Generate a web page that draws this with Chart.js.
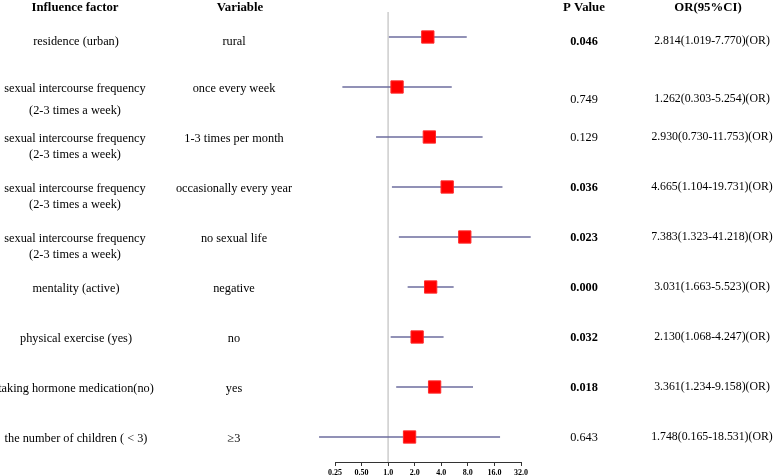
<!DOCTYPE html>
<html>
<head>
<meta charset="utf-8">
<script src="https://cdn.jsdelivr.net/npm/chart.js@4.4.1/dist/chart.umd.min.js"></script>
<style>
  html, body { margin: 0; padding: 0; background: #fff; }
  #wrap { width: 778px; height: 476px; position: relative; }
</style>
</head>
<body>
<div id="wrap"><canvas id="myChart" width="778" height="476"></canvas></div>
<script>
// table columns
const factors = [
  ["residence (urban)"],
  ["sexual intercourse frequency", "(2-3 times a week)"],
  ["sexual intercourse frequency", "(2-3 times a week)"],
  ["sexual intercourse frequency", "(2-3 times a week)"],
  ["sexual intercourse frequency", "(2-3 times a week)"],
  ["mentality (active)"],
  ["physical exercise (yes)"],
  ["taking hormone medication(no)"],
  ["the number of children ( < 3)"],
];
const variables = ["rural", "once every week", "1-3 times per month", "occasionally every year",
  "no sexual life", "negative", "no", "yes", "\u22653"];
const pValues = ["0.046", "0.749", "0.129", "0.036", "0.023", "0.000", "0.032", "0.018", "0.643"];

// odds ratios and CI
const orValues = [2.814, 1.262, 2.930, 4.665, 7.383, 3.031, 2.130, 3.361, 1.748];
const ciLow = [1.019, 0.303, 0.730, 1.104, 1.323, 1.663, 1.068, 1.234, 0.165];
const ciHigh = [7.770, 5.254, 11.753, 19.731, 41.218, 5.523, 4.247, 9.158, 18.531];

// x axis ticks
const tickVals = [0.25, 0.5, 1, 2, 4, 8, 16, 32];
const tickLabels = ["0.25", "0.50", "1.0", "2.0", "4.0", "8.0", "16.0", "32.0"];

const serif = '"Liberation Serif", "Times New Roman", serif';

let datasets = [];
// CI lines, one per row
orValues.forEach((v, i) => {
  datasets.push({
    type: "line",
    data: [{ x: ciLow[i], y: i }, { x: ciHigh[i], y: i }],
    borderColor: "#6c6c9e",
    borderWidth: 1.3,
    pointRadius: 0,
    clip: false,
  });
});
// reference line at OR = 1
datasets.push({
  type: "line",
  data: [{ x: 1, y: -0.5 }, { x: 1, y: 8.5 }],
  borderColor: "#d2d2d2",
  borderWidth: 1,
  pointRadius: 0,
  order: 10,
});
// point estimates
datasets.push({
  type: "scatter",
  data: orValues.map((v, i) => ({ x: v, y: i })),
  pointStyle: "rect",
  pointRadius: 8.7,
  backgroundColor: "#ff0000",
  borderColor: "#ff2a2a",
  borderWidth: 1,
  order: -1,
  clip: false,
});

const tablePlugin = {
  id: "table",
  afterDraw(chart) {
    const c = chart.ctx;
    const y = chart.scales.y;
    c.save();
    c.fillStyle = "#000";
    c.textAlign = "center";
    c.textBaseline = "middle";

    c.font = "bold 12.8px " + serif;
    c.fillText("Influence factor", 75, 8);
    c.fillText("Variable", 240, 8);
    c.fillText("P Value", 584, 8);
    c.fillText("OR(95%CI)", 708, 8);

    const fs = "12.3px " + serif;
    factors.forEach((lines, i) => {
      const py = y.getPixelForValue(i);
      c.font = fs;
      if (lines.length == 1) {
        c.fillText(lines[0], 76, py + (i == 0 ? 5 : 2));
      } else {
        const gap = i == 1 ? 22 : 16;
        c.fillText(lines[0], 75, py + 2);
        c.fillText(lines[1], 75, py + 2 + gap);
      }
      c.fillText(variables[i], 234, py + (i == 0 ? 5 : 2));

      const shift = i == 1 ? 13 : (i == 0 ? 5 : 1);
      c.font = (Number(pValues[i]) < 0.05 ? "bold " : "") + fs;
      c.fillText(pValues[i], 584, py + shift);
      c.font = "11.8px " + serif;
      const txt = orValues[i].toFixed(3) + "(" + ciLow[i].toFixed(3) + "-" + ciHigh[i].toFixed(3) + ")(OR)";
      c.fillText(txt, 712, py + shift - 1);
    });
    c.restore();
  },
};

var ctx = document.getElementById("myChart").getContext("2d");
var myChart = new Chart(ctx, {
  type: "scatter",
  data: { datasets: datasets },
  options: {
    responsive: false,
    animation: false,
    layout: { padding: { left: 335, right: 257, top: 12, bottom: 0 } },
    plugins: { legend: { display: false }, tooltip: { enabled: false } },
    scales: {
      x: {
        type: "logarithmic",
        min: 0.25,
        max: 32,
        afterBuildTicks: (axis) => {
          axis.ticks = tickVals.map((v) => ({ value: v }));
        },
        afterFit: (axis) => {
          axis.height = 14;
        },
        grid: { drawOnChartArea: false, drawTicks: true, tickLength: 4, color: "#333" },
        border: { display: true, color: "#333" },
        ticks: {
          autoSkip: false,
          maxRotation: 0,
          padding: 2,
          color: "#000",
          font: { family: serif, size: 8, weight: "bold" },
          callback: (v, i) => tickLabels[i],
        },
      },
      y: {
        type: "linear",
        min: -0.5,
        max: 8.5,
        reverse: true,
        display: false,
      },
    },
  },
  plugins: [tablePlugin],
});
</script>
</body>
</html>
